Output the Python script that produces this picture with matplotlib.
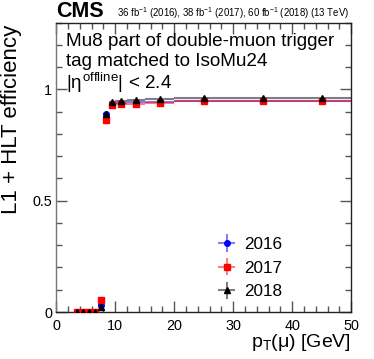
import matplotlib
matplotlib.use("Agg")
import matplotlib.pyplot as plt
from matplotlib.ticker import MultipleLocator, FixedLocator, FixedFormatter

plt.rcParams['font.family'] = ['Liberation Sans', 'DejaVu Sans']
plt.rcParams['mathtext.fontset'] = 'custom'
plt.rcParams['mathtext.rm'] = 'Liberation Sans'
plt.rcParams['mathtext.it'] = 'Liberation Sans'

# bin edges / centers (GeV)
pt_centers = [3.5, 4.5, 5.5, 6.5, 7.5, 8.5, 9.5, 11, 13.5, 17.5, 25, 35, 45]
pt_halfwidth = [0.5, 0.5, 0.5, 0.5, 0.5, 0.5, 0.5, 1, 1.5, 2.5, 5, 5, 5]

eff_2016 = [0.0, 0.0, 0.0, 0.0, 0.031, 0.888, 0.935, 0.940, 0.942, 0.945, 0.950, 0.950, 0.950]
eff_2017 = [0.0, 0.0, 0.0, 0.0, 0.054, 0.862, 0.930, 0.933, 0.934, 0.940, 0.946, 0.946, 0.948]
eff_2018 = [0.0, 0.0, 0.0, 0.0, 0.021, 0.888, 0.943, 0.946, 0.952, 0.955, 0.961, 0.961, 0.963]
err_2016 = [0.002, 0.002, 0.002, 0.002, 0.006, 0.008, 0.004, 0.003, 0.002, 0.002, 0.002, 0.002, 0.002]
err_2017 = [0.002, 0.002, 0.002, 0.002, 0.008, 0.008, 0.004, 0.003, 0.002, 0.002, 0.002, 0.002, 0.002]
err_2018 = [0.002, 0.002, 0.002, 0.002, 0.005, 0.008, 0.004, 0.003, 0.002, 0.002, 0.002, 0.002, 0.002]

years = ["2016", "2017", "2018"]
colors = ["#0000ff", "#ff0000", "#000000"]
markers = ["o", "s", "^"]
msizes = [4.0, 5.0, 5.0]

fig = plt.figure(figsize=(3.74, 3.59), dpi=100)
ax = fig.add_axes([0.1505, 0.1309, 0.7888, 0.8059])

handles = []
for y, e, c, m, ms, lab in zip([eff_2016, eff_2017, eff_2018],
                               [err_2016, err_2017, err_2018],
                               colors, markers, msizes, years):
    h = ax.errorbar(pt_centers, y, xerr=pt_halfwidth, yerr=e, fmt=m, color=c,
                    ms=ms, mec=c, mfc=c, ecolor=c, elinewidth=1.5,
                    capsize=0, label=lab, zorder=3)
    for art in h[2]:
        art.set_alpha(0.5)
    handles.append(h)

ax.set_xlim(0, 50)
ax.set_ylim(0, 1.3)

ax.xaxis.set_major_locator(MultipleLocator(10))
ax.xaxis.set_minor_locator(MultipleLocator(2))
ax.yaxis.set_major_locator(FixedLocator([0, 0.5, 1.0]))
ax.yaxis.set_major_formatter(FixedFormatter(["0", "0.5", "1"]))
ax.yaxis.set_minor_locator(MultipleLocator(0.1))

ax.tick_params(which='both', direction='in', top=True, right=True,
               labelsize=10.4, color='#555555')
ax.tick_params(which='major', length=8, width=1)
ax.tick_params(which='minor', length=4, width=1)
ax.tick_params(axis='x', which='major', pad=5)
ax.tick_params(axis='y', which='major', pad=3)
for s in ['left']:
    ax.spines[s].set_color('#777777')
for s in ['bottom', 'right', 'top']:
    ax.spines[s].set_color('#222222')
for s in ax.spines.values():
    s.set_linewidth(1.0)

fig.text(12 / 374, 1 - 25 / 359, "L1 + HLT efficiency", rotation=90,
         ha='center', va='top', fontsize=16)
fig.text(351 / 374, 1 - 347 / 359, r"p$_{\mathrm{T}}$(μ) [GeV]",
         ha='right', va='baseline', fontsize=14)

fig.text(56.5 / 374, 1 - 16.7 / 359, "CMS", fontweight='bold', fontsize=15.5,
         ha='left', va='baseline')
fig.text(349 / 374, 1 - 16.7 / 359,
         r"36 fb$^{-1}$ (2016), 38 fb$^{-1}$ (2017), 60 fb$^{-1}$ (2018) (13 TeV)",
         ha='right', va='baseline', fontsize=6.9)

tx = 66.5 / 374
fig.text(tx, 1 - 46 / 359, "Mu8 part of double-muon trigger", fontsize=13.6,
         ha='left', va='baseline')
fig.text(tx, 1 - 65.7 / 359, "tag matched to IsoMu24", fontsize=13.6,
         ha='left', va='baseline')
fig.text(tx, 1 - 89.3 / 359, r"|$\eta^{\mathrm{offline}}$| < 2.4", fontsize=13.6,
         ha='left', va='baseline')

leg = ax.legend(handles=handles, labels=years, loc='upper left',
                bbox_to_anchor=(213 / 374, 1 - 237 / 359),
                bbox_transform=fig.transFigure, frameon=False,
                fontsize=12.3, handlelength=1.6, handletextpad=0.2,
                labelspacing=0.5, borderpad=0, borderaxespad=0)

fig.savefig("out.png", dpi=100)
